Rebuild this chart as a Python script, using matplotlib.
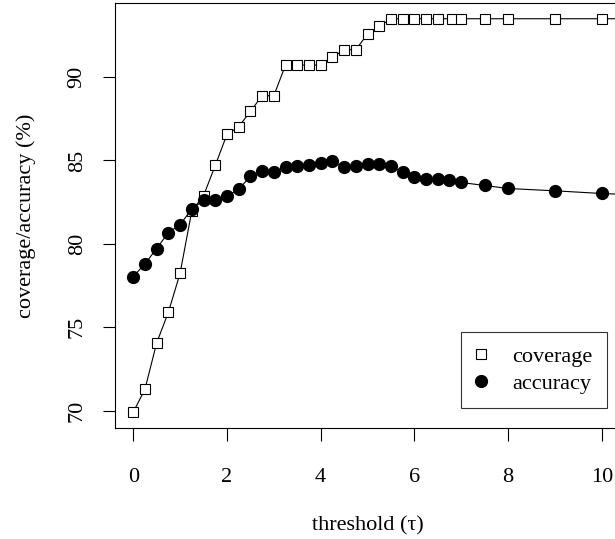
import matplotlib
matplotlib.use("Agg")
import matplotlib.pyplot as plt

plt.rcParams['font.family'] = ['Liberation Serif', 'DejaVu Serif']

# threshold values and measured percentages
cov_x = [0, 0.25, 0.5, 0.75, 1.0, 1.25, 1.5, 1.75, 2.0, 2.25, 2.5, 2.75, 3.0,
         3.25, 3.5, 3.75, 4.0, 4.25, 4.5, 4.75, 5.0, 5.25, 5.5, 5.75, 6.0,
         6.25, 6.5, 6.8, 7.0, 7.5, 8, 9, 10, 12]
coverage = [69.9, 71.28, 74.06, 75.9, 78.24, 81.98, 82.88, 84.7, 86.56, 87.02,
            87.94, 88.88, 88.88, 90.72, 90.72, 90.72, 90.72, 91.18, 91.64,
            91.64, 92.58, 93.04, 93.5, 93.5, 93.5, 93.5, 93.5, 93.5, 93.5,
            93.5, 93.5, 93.5, 93.5, 93.5]

acc_x = [0, 0.25, 0.5, 0.75, 1.0, 1.25, 1.5, 1.75, 2.0, 2.25, 2.5, 2.75, 3.0,
         3.25, 3.5, 3.75, 4.0, 4.25, 4.5, 4.75, 5.0, 5.25, 5.5, 5.75, 6.0,
         6.25, 6.5, 6.75, 7.0, 7.5, 8, 9, 10, 12]
accuracy = [78.04, 78.8, 79.72, 80.68, 81.14, 82.1, 82.6, 82.64, 82.84, 83.28,
            84.04, 84.34, 84.28, 84.6, 84.68, 84.72, 84.84, 84.94, 84.6, 84.66,
            84.8, 84.76, 84.64, 84.3, 84.0, 83.88, 83.88, 83.8, 83.68, 83.5,
            83.32, 83.18, 83.02, 82.8]

x_ticks = [0, 2, 4, 6, 8, 10]
y_ticks = [70, 75, 80, 85, 90]

W, H = 615, 539
fig = plt.figure(figsize=(W / 100, H / 100), dpi=100)
left, right, top, bottom = 114.5, 620.5, 3, 428
ax = fig.add_axes([left / W, (H - bottom) / H, (right - left) / W, (bottom - top) / H])

ax.plot(cov_x, coverage, color='black', lw=0.8, marker='s', ms=7.7,
        mfc='white', mec='black', mew=0.8, label='coverage')
ax.plot(acc_x, accuracy, color='black', lw=0.8, marker='o', ms=8.5,
        mfc='black', mec='black', label='accuracy')

# R style 4% padding
ax.set_xlim(-0.4, 10.4)
lo = min(min(coverage), min(accuracy))
hi = max(max(coverage), max(accuracy))
r = hi - lo
ax.set_ylim(lo - 0.04 * r, hi + 0.04 * r)

ax.set_xticks(x_ticks)
ax.set_yticks(y_ticks)
ax.set_yticklabels([str(v) for v in y_ticks], rotation=90, va='center')
ax.tick_params(axis='both', direction='out', length=9, width=0.8, labelsize=16)
ax.tick_params(axis='x', pad=20)
ax.tick_params(axis='y', pad=11)
for s in ax.spines.values():
    s.set_linewidth(0.8)

ax.set_xlabel('threshold (\u03c4)', fontsize=16)
ax.xaxis.label.set_va('center')
ax.xaxis.set_label_coords(0.5, (bottom - 526) / (bottom - top))
ax.set_ylabel('coverage/accuracy (%)', fontsize=16)
ax.yaxis.label.set_va('center')
ax.yaxis.set_label_coords((26 - left) / (right - left), 0.5)

leg = ax.legend(loc='lower left', bbox_to_anchor=(0.684, 0.046), borderaxespad=0,
                fontsize=16, frameon=True, fancybox=False, edgecolor='black',
                handlelength=0.55, handletextpad=1.12,
                borderpad=0.65, labelspacing=0.28, numpoints=1)
leg.get_frame().set_linewidth(0.8)
for h in leg.legend_handles:
    h.set_linestyle('none')

fig.savefig('out.png', dpi=100)
